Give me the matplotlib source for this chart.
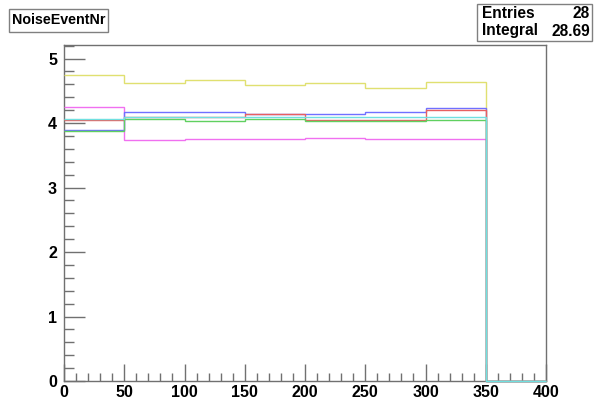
import matplotlib
matplotlib.use("Agg")
import matplotlib.pyplot as plt
from matplotlib.ticker import MultipleLocator
from matplotlib.patches import Rectangle
import numpy as np

plt.rcParams['font.family'] = ['Liberation Sans', 'DejaVu Sans']

edges = [0, 50, 100, 150, 200, 250, 300, 350, 400]
yellow = [4.744, 4.625, 4.662, 4.589, 4.620, 4.538, 4.640, 0.0]
magenta = [4.248, 3.732, 3.747, 3.747, 3.763, 3.747, 3.747, 0.0]
blue = [3.891, 4.166, 4.166, 4.135, 4.135, 4.166, 4.237, 0.0]
red = [4.042, 4.088, 4.088, 4.135, 4.042, 4.042, 4.197, 0.0]
green = [3.876, 4.062, 4.031, 4.057, 4.031, 4.031, 4.042, 0.0]
cyan = [4.057, 4.095, 4.095, 4.095, 4.095, 4.095, 4.095, 0.0]

series = [
    (yellow, '#e0e070'),
    (magenta, '#f070f0'),
    (blue, '#7070ff'),
    (red, '#e86060'),
    (green, '#60d060'),
    (cyan, '#70e0e0'),
]

W, H = 597, 403
fig = plt.figure(figsize=(W / 100, H / 100), dpi=100)
ax = fig.add_axes([64 / W, (H - 381) / H, (546 - 64) / W, (381 - 45) / H])

for i, (vals, col) in enumerate(series):
    ax.stairs(vals, edges, baseline=None, color=col, linewidth=1.0,
              zorder=3 + i * 0.01, clip_on=False)

ax.set_xlim(0, 400)
ax.set_ylim(0, 5.21)

ax.xaxis.set_major_locator(MultipleLocator(50))
ax.xaxis.set_minor_locator(MultipleLocator(10))
ax.yaxis.set_major_locator(MultipleLocator(1))
ax.yaxis.set_minor_locator(MultipleLocator(0.2))

ax.tick_params(axis='both', which='both', direction='in', color='#707070',
               top=False, right=False)
ax.tick_params(axis='y', which='major', length=15, width=1, pad=5)
ax.tick_params(axis='y', which='minor', length=7, width=1)
ax.tick_params(axis='x', which='major', length=12, width=1, pad=3)
ax.tick_params(axis='x', which='minor', length=6, width=1)

for lab in ax.get_xticklabels() + ax.get_yticklabels():
    lab.set_fontweight('bold')
    lab.set_fontsize(11.5)

for sp in ax.spines.values():
    sp.set_color('#707070')
    sp.set_linewidth(1.0)

# title box
fig.patches.append(Rectangle((9 / W, 1 - 32 / H), 99 / W, 23 / H,
                             transform=fig.transFigure, facecolor='white',
                             edgecolor='#808080', linewidth=1.0))
fig.text(58.5 / W, 1 - 20.5 / H, 'NoiseEventNr', ha='center', va='center',
         fontsize=10.3, fontweight='bold')

# stats box
fig.patches.append(Rectangle((477 / W, 1 - 41 / H), 115 / W, 37 / H,
                             transform=fig.transFigure, facecolor='white',
                             edgecolor='#808080', linewidth=1.0))
fig.text(482 / W, 1 - 14 / H, 'Entries', ha='left', va='center',
         fontsize=11.2, fontweight='bold')
fig.text(590 / W, 1 - 14 / H, '28', ha='right', va='center',
         fontsize=11.2, fontweight='bold')
fig.text(482 / W, 1 - 31 / H, 'Integral', ha='left', va='center',
         fontsize=11.2, fontweight='bold')
fig.text(590 / W, 1 - 31 / H, '28.69', ha='right', va='center',
         fontsize=11.2, fontweight='bold')

fig.savefig('out.png', dpi=100, facecolor='white')
